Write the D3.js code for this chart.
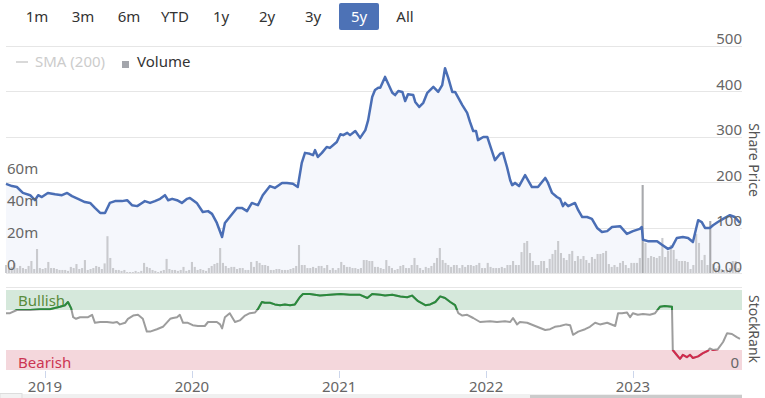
<!DOCTYPE html>
<html>
<head>
<meta charset="utf-8">
<title>Share Price und StockRank</title>
<script src="https://d3js.org/d3.v7.min.js"></script>
<style>
  body { margin: 0; background: #fff; }
  svg { display: block; font-family: "Noto Sans", sans-serif; }
</style>
</head>
<body>
<svg width="765" height="398"></svg>
<script>
// dates as "year-dayOfYear"
const priceDates = ["2018-269","2018-284","2018-296","2018-311","2018-329","2018-341","2018-349","2018-358",
  "2019-008","2019-026","2019-043","2019-056","2019-068","2019-083","2019-100","2019-113","2019-125","2019-138","2019-150","2019-162","2019-175","2019-192","2019-205","2019-217","2019-230","2019-242","2019-249","2019-262","2019-274","2019-287","2019-299","2019-307","2019-317","2019-329","2019-341","2019-354","2019-361",
  "2020-013","2020-028","2020-041","2020-051","2020-063","2020-076","2020-083","2020-095","2020-113","2020-125","2020-138","2020-150","2020-165","2020-177","2020-195","2020-207","2020-225","2020-237","2020-252","2020-264","2020-274","2020-282","2020-294","2020-302","2020-307","2020-314","2020-324","2020-336","2020-344","2020-361",
  "2021-004","2021-011","2021-021","2021-028","2021-041","2021-053","2021-066","2021-073","2021-083","2021-090","2021-098","2021-103","2021-115","2021-133","2021-140","2021-148","2021-158","2021-165","2021-172","2021-185","2021-190","2021-200","2021-210","2021-220","2021-235","2021-247","2021-257","2021-264","2021-272","2021-282","2021-289","2021-307","2021-319","2021-326","2021-334","2021-341","2021-346","2021-359",
  "2022-004","2022-023","2022-036","2022-043","2022-053","2022-061","2022-066","2022-073","2022-083","2022-098","2022-115","2022-130","2022-148","2022-155","2022-165","2022-177","2022-185","2022-192","2022-197","2022-205","2022-222","2022-230","2022-240","2022-252","2022-264","2022-277","2022-289","2022-302","2022-314","2022-334","2022-351",
  "2023-001","2023-018","2023-023","2023-026","2023-038","2023-061","2023-073","2023-088","2023-098","2023-110","2023-125","2023-138","2023-150","2023-163","2023-172","2023-180","2023-192","2023-200","2023-212","2023-225","2023-242","2023-254","2023-267"];
const priceValues = [196,191,189,176,171,160,171,167,
  176,173,171,176,169,163,156,154,143,132,132,154,158,158,160,149,147,154,158,154,158,163,171,160,163,160,154,163,165,
  154,134,136,130,110,79,110,123,143,143,136,154,149,171,191,187,198,198,196,189,242,264,262,259,270,255,264,277,275,288,
  305,303,308,303,312,297,314,336,387,402,407,407,431,396,391,400,398,378,393,391,376,365,374,396,409,398,413,450,429,398,398,369,352,332,312,312,292,299,
  299,248,262,264,233,204,193,198,191,215,189,189,209,198,176,167,163,147,154,147,154,138,123,123,119,99,90,92,101,103,86,
  92,97,101,73,70,70,62,53,57,77,79,77,68,116,112,99,99,105,112,119,127,123,110];

// weekly volume in millions, first week starting 2018-269
const volumeStart = "2018-269";
const volumeValues = [5,3,3.8,6.3,3.1,4.4,3.1,2.5,4.4,7.5,
  2.5,15,3.1,2.5,3.1,6.9,3.1,3.1,2.5,1.9,
  1.9,1.9,1.3,3.8,3.1,5.6,2.5,3.1,8.1,1.9,
  2.5,3.1,4.4,3.8,2.5,6,23,9.4,3.1,1.9,
  1.9,1.3,1.9,0.6,0.6,0.6,1.3,0.6,1.3,6.3,
  3.8,3.1,1.9,1.3,0.6,1.3,1.9,8.8,2.5,1.9,
  1.9,1.3,1.9,3.8,1.3,1.9,6.9,3.8,1.9,2.5,
  1.9,1.3,3.1,4.4,5.6,6.3,15.6,6.3,4.4,3.1,
  3.8,3.8,2.5,3.1,3.1,1.9,1.9,6.9,3.8,7.5,
  6.3,5,5,4.4,1.9,1.9,2.5,2.5,1.9,1.9,
  1.9,2.5,3.1,4.4,17.5,5,5,3.1,3.1,3.8,3.1,
  4.4,4.4,3.1,5,1.9,3.1,1.9,3.1,6.9,5,
  3.8,3.8,3.1,3.1,2.5,3.1,8.1,8.1,7.5,7.5,
  3.8,3.8,3.1,2.5,8.1,4.4,3.1,1.9,2.5,4.4,
  5,3.1,3.1,5,9.4,5,3.1,1.9,3.8,3.1,
  4.4,6.3,9.4,15.6,8.1,6.3,5,3.8,5,5,
  3.1,5,3.8,5,5,4.4,5,6.3,3.1,3.1,
  6.3,3.8,3.1,3.1,3.1,3.8,3.1,5,5,7.5,
  5,5,13.1,18.8,20,12.5,7.5,5,5,7.5,
  7.5,3.1,8.8,11.9,14.4,20,12.5,9.4,8.1,11.9,
  13.8,7.5,10.6,8.8,10.6,8.1,6.3,10,8.8,11.9,
  11.9,12.5,13.8,5.6,3.8,5,3.8,6.3,7.5,5,
  3.1,6.3,6.3,6.3,9.4,55,18.8,9.4,10.6,10,
  9.4,10.6,21.9,10,13.8,17.5,14.4,8.8,7.5,7.5,
  7.5,6.9,2.5,5,24.4,18.8,8.1,11.3,5,32.5,
  5.6,3.1,4.4,2.5,1.9,1.9,3.1,7.5,7.5,3.1];

const rankDates = ["2018-269","2018-279","2018-296","2018-329","2018-354",
  "2019-013","2019-038","2019-051","2019-058","2019-066","2019-071","2019-078","2019-088","2019-100","2019-108","2019-118","2019-125","2019-138","2019-155","2019-170","2019-180","2019-187","2019-200","2019-207","2019-220","2019-232","2019-244","2019-254","2019-262","2019-279","2019-294","2019-312","2019-319","2019-329","2019-336","2019-344","2019-356",
  "2020-003","2020-016","2020-033","2020-041","2020-053","2020-063","2020-071","2020-076","2020-083","2020-095","2020-108","2020-120","2020-133","2020-145","2020-158","2020-165","2020-175","2020-182","2020-195","2020-207","2020-220","2020-232","2020-245","2020-257","2020-269","2020-277","2020-294","2020-319","2020-344",
  "2021-004","2021-028","2021-053","2021-071","2021-083","2021-103","2021-115","2021-133","2021-153","2021-170","2021-182","2021-197","2021-215","2021-227","2021-240","2021-252","2021-264","2021-277","2021-289","2021-297","2021-307","2021-319","2021-334","2021-351",
  "2022-011","2022-028","2022-048","2022-061","2022-068","2022-078","2022-085","2022-103","2022-123","2022-148","2022-160","2022-172","2022-185","2022-200","2022-210","2022-217","2022-230","2022-247","2022-259","2022-272","2022-284","2022-302","2022-322","2022-329","2022-339","2022-351","2022-359",
  "2023-001","2023-013","2023-026","2023-043","2023-056","2023-068","2023-080","2023-098","2023-100","2023-108","2023-118","2023-125","2023-135","2023-143","2023-150","2023-163","2023-175","2023-187","2023-192","2023-200","2023-212","2023-225","2023-235","2023-247","2023-259","2023-267"];
const rankValues = [71,71,75,75,76,
  76,79,81,85,77,66,64,66,66,66,69,59,60,60,59,60,57,59,64,68,69,64,48,48,51,54,64,65,66,69,59,59,
  56,55,55,60,60,60,57,52,66,71,60,62,68,71,72,76,85,84,84,82,81,82,81,82,91,95,95,93,94,
  95,94,94,90,95,94,93,94,92,91,93,86,81,82,85,92,90,85,81,71,68,69,65,60,
  61,60,61,60,65,57,60,59,55,50,51,54,55,57,56,44,48,51,54,59,57,59,55,71,71,72,66,
  71,69,70,69,71,79,80,79,25,20,14,19,16,19,15,17,21,24,27,25,26,35,46,45,41,39];

const rangeButtons = ["1m", "3m", "6m", "YTD", "1y", "2y", "3y", "5y", "All"];
const selectedRange = "5y";
const priceTicks = [0, 100, 200, 300, 400, 500];
const volumeTicks = [0, 20, 40, 60];
const yearTicks = ["2019", "2020", "2021", "2022", "2023"];
const bullishBand = [75, 100];
const bearishBand = [0, 25];

const parseDay = d3.timeParse("%Y-%j");
const parseYear = d3.timeParse("%Y");
const svg = d3.select("svg");
const left = 6, right = 742;

const x = d3.scaleTime()
  .domain([parseDay("2018-269"), parseDay("2023-272")])
  .range([left, right]);
const yPrice = d3.scaleLinear().domain([0, 500]).range([273, 45.5]);
const yVol = d3.scaleLinear().domain([0, 60]).range([273, 177]);
const yRank = d3.scaleLinear().domain([0, 100]).range([370, 290]);

const price = priceDates.map((d, i) => ({ date: parseDay(d), value: priceValues[i] }));
const rank = rankDates.map((d, i) => ({ date: parseDay(d), value: rankValues[i] }));
const vStart = parseDay(volumeStart);
const volume = volumeValues.map((v, i) => ({ date: d3.timeDay.offset(vStart, 7 * i), value: v }));

// range selector buttons
const btn = d3.scalePoint().domain(rangeButtons).range([37, 405]);
svg.append("rect")
  .attr("x", btn(selectedRange) - 20).attr("y", 3)
  .attr("width", 40).attr("height", 27).attr("rx", 2)
  .attr("fill", "#4d72b6");
svg.selectAll(".btn").data(rangeButtons).enter().append("text")
  .attr("x", d => btn(d)).attr("y", 22)
  .attr("text-anchor", "middle")
  .style("font-size", "15px")
  .attr("fill", d => d === selectedRange ? "#fff" : "#333")
  .text(d => d);

// price gridlines
svg.selectAll(".grid").data(priceTicks).enter().append("line")
  .attr("x1", left).attr("x2", right)
  .attr("y1", d => Math.round(yPrice(d)) + 0.5).attr("y2", d => Math.round(yPrice(d)) + 0.5)
  .attr("stroke", "#e6e6e6");

// price area + volume + line
svg.append("path")
  .datum(price)
  .attr("fill", "#f5f7fc")
  .attr("d", d3.area().x(d => x(d.date)).y0(yPrice(0)).y1(d => yPrice(d.value)));

svg.selectAll(".vol").data(volume).enter().append("rect")
  .attr("x", d => x(d.date) - 1)
  .attr("y", d => yVol(d.value))
  .attr("width", 2.1)
  .attr("height", d => yVol(0) - yVol(d.value))
  .attr("fill", d => d.value >= 30 ? "#a8a9ad" : "#c9cace");

svg.append("path")
  .datum(price)
  .attr("fill", "none")
  .attr("stroke", "#4a6eb5")
  .attr("stroke-width", 2.5)
  .attr("stroke-linejoin", "round")
  .attr("d", d3.line().x(d => x(d.date)).y(d => yPrice(d.value)));

// price labels (right)
svg.selectAll(".plab").data(priceTicks).enter().append("text")
  .attr("x", right).attr("y", d => yPrice(d) - 1.5)
  .attr("text-anchor", "end")
  .style("font-size", "15px")
  .attr("fill", "#666")
  .text(d => d === 0 ? "0.00" : d);

// volume labels (left)
svg.selectAll(".vlab").data(volumeTicks).enter().append("text")
  .attr("x", 7).attr("y", d => yVol(d) - 3)
  .style("font-size", "15px")
  .attr("fill", "#666")
  .text(d => d === 0 ? "0" : d + "m");

// legend
svg.append("line").attr("x1", 16).attr("x2", 28).attr("y1", 62).attr("y2", 62)
  .attr("stroke", "#ccc").attr("stroke-width", 1.5);
svg.append("text").attr("x", 35).attr("y", 67).style("font-size", "15px")
  .attr("fill", "#ccc").text("SMA (200)");
svg.append("rect").attr("x", 122).attr("y", 61).attr("width", 7).attr("height", 7)
  .attr("fill", "#a3a5ab");
svg.append("text").attr("x", 137).attr("y", 67).style("font-size", "15px")
  .attr("fill", "#333").text("Volume");

svg.append("text")
  .attr("transform", "translate(749,160) rotate(90)")
  .attr("text-anchor", "middle")
  .style("font-size", "14px").attr("fill", "#555")
  .text("Share Price");

// StockRank panel
svg.append("line").attr("x1", left).attr("x2", right).attr("y1", 287.5).attr("y2", 287.5)
  .attr("stroke", "#e6e6e6");
svg.append("rect")
  .attr("x", left).attr("width", right - left)
  .attr("y", yRank(bullishBand[1])).attr("height", yRank(bullishBand[0]) - yRank(bullishBand[1]))
  .attr("fill", "#d5e8db");
svg.append("rect")
  .attr("x", left).attr("width", right - left)
  .attr("y", yRank(bearishBand[1])).attr("height", yRank(bearishBand[0]) - yRank(bearishBand[1]))
  .attr("fill", "#f4d7dc");
svg.append("text").attr("x", 18).attr("y", 306).style("font-size", "15px")
  .attr("fill", "#5a8c3c").text("Bullish");
svg.append("text").attr("x", 18).attr("y", 368).style("font-size", "15px")
  .attr("fill", "#cc3553").text("Bearish");

const defs = svg.append("defs");
defs.append("clipPath").attr("id", "clip-bull").append("rect")
  .attr("x", 0).attr("y", 0).attr("width", 765).attr("height", yRank(bullishBand[0]));
defs.append("clipPath").attr("id", "clip-bear").append("rect")
  .attr("x", 0).attr("y", yRank(bearishBand[1])).attr("width", 765).attr("height", 398 - yRank(bearishBand[1]));

const rankLine = d3.line().x(d => x(d.date)).y(d => yRank(d.value));
[["#9d9d9d", null], ["#2a8a3c", "clip-bull"], ["#d22a4c", "clip-bear"]].forEach(([c, clip]) => {
  const p = svg.append("path").datum(rank)
    .attr("fill", "none").attr("stroke", c).attr("stroke-width", 2)
    .attr("stroke-linejoin", "round")
    .attr("d", rankLine);
  if (clip) p.attr("clip-path", "url(#" + clip + ")");
});

svg.append("text").attr("x", 739).attr("y", yRank(0) - 2.5)
  .attr("text-anchor", "end").style("font-size", "15px").attr("fill", "#666").text("0");

svg.append("text")
  .attr("transform", "translate(749,329) rotate(90)")
  .attr("text-anchor", "middle")
  .style("font-size", "14px").attr("fill", "#555")
  .text("StockRank");

// x axis
svg.selectAll(".xt").data(yearTicks).enter().append("line")
  .attr("x1", d => Math.round(x(parseYear(d))) + 0.5).attr("x2", d => Math.round(x(parseYear(d))) + 0.5)
  .attr("y1", 371).attr("y2", 378)
  .attr("stroke", "#ccd6eb");
svg.selectAll(".xl").data(yearTicks).enter().append("text")
  .attr("x", d => x(parseYear(d))).attr("y", 392)
  .attr("text-anchor", "middle")
  .style("font-size", "15px").attr("fill", "#666")
  .text(d => d);

// scrollbar strip
svg.append("rect").attr("x", 0).attr("y", 394).attr("width", right).attr("height", 4).attr("fill", "#f0f0f0");
svg.append("rect").attr("x", 0).attr("y", 393.5).attr("width", 22).attr("height", 5)
  .attr("fill", "#f2f2f2").attr("stroke", "#ddd");
svg.append("rect").attr("x", 530).attr("y", 395).attr("width", right - 530).attr("height", 3).attr("fill", "#cbcbcb");
</script>
</body>
</html>
